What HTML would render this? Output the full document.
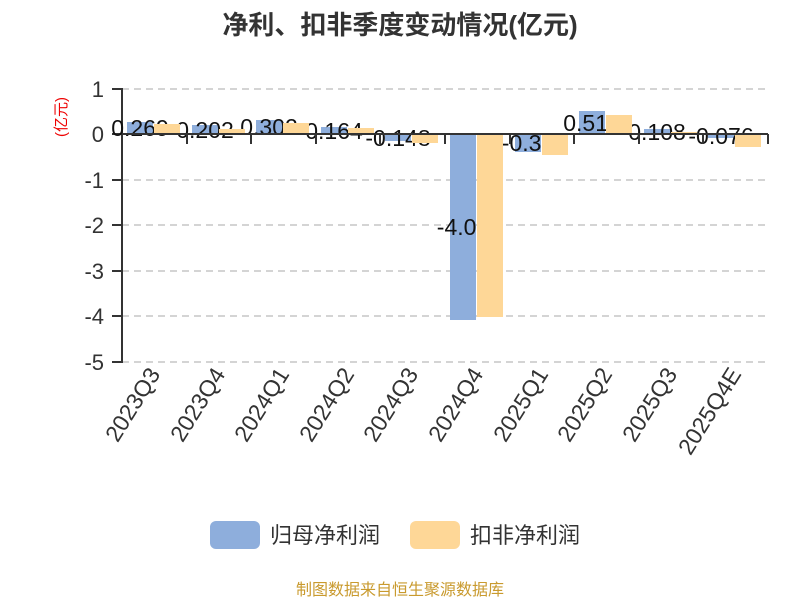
<!DOCTYPE html>
<html><head><meta charset="utf-8"><style>body{margin:0;background:#fff}</style></head><body>
<svg width="800" height="600" xmlns="http://www.w3.org/2000/svg" font-family="Liberation Sans, Noto Sans CJK SC, sans-serif">
<text x="400" y="34" text-anchor="middle" font-size="26" font-weight="bold" fill="#333">净利、扣非季度变动情况(亿元)</text>
<text transform="translate(66,117) rotate(-90)" text-anchor="middle" font-size="15" fill="#e00">(亿元)</text>
<g stroke="#bbb" stroke-dasharray="7,5" stroke-width="1.3">
<line x1="122" y1="89" x2="768" y2="89"/><line x1="122" y1="180" x2="768" y2="180"/><line x1="122" y1="225" x2="768" y2="225"/><line x1="122" y1="271" x2="768" y2="271"/><line x1="122" y1="316" x2="768" y2="316"/><line x1="122" y1="362" x2="768" y2="362"/>
</g>
<g font-size="22" fill="#333" text-anchor="end">
<text x="104" y="97">1</text><text x="104" y="142">0</text><text x="104" y="188">-1</text><text x="104" y="233">-2</text><text x="104" y="279">-3</text><text x="104" y="324">-4</text><text x="104" y="370">-5</text>
</g>
<g stroke="#333" stroke-width="2">
<line x1="122" y1="88" x2="122" y2="363"/>
<line x1="112" y1="89" x2="122" y2="89"/><line x1="112" y1="134" x2="122" y2="134"/><line x1="112" y1="180" x2="122" y2="180"/><line x1="112" y1="225" x2="122" y2="225"/><line x1="112" y1="271" x2="122" y2="271"/><line x1="112" y1="316" x2="122" y2="316"/><line x1="112" y1="362" x2="122" y2="362"/>
</g>
<g fill="#8eaedc">
<rect x="127" y="122" width="26" height="12"/>
<rect x="192" y="125" width="26" height="9"/>
<rect x="256" y="120" width="26" height="14"/>
<rect x="321" y="127" width="26" height="7"/>
<rect x="385" y="134" width="26" height="7"/>
<rect x="450" y="134" width="26" height="186"/>
<rect x="515" y="134" width="26" height="18"/>
<rect x="579" y="111" width="26" height="23"/>
<rect x="644" y="129" width="26" height="5"/>
<rect x="708" y="134" width="26" height="4"/>
</g>
<g font-size="23" fill="#111" text-anchor="middle">
<text x="140" y="136">0.269</text>
<text x="205" y="138">0.202</text>
<text x="269" y="135">0.302</text>
<text x="334" y="139">0.164</text>
<text x="398" y="146">-0.148</text>
<text x="463" y="235">-4.06</text>
<text x="528" y="151">-0.39</text>
<text x="592" y="131">0.514</text>
<text x="657" y="140">0.108</text>
<text x="721" y="144">-0.076</text>
</g>
<g fill="#fed797">
<rect x="154" y="124" width="26" height="10"/>
<rect x="219" y="129" width="26" height="5"/>
<rect x="283" y="123" width="26" height="11"/>
<rect x="348" y="128" width="26" height="6"/>
<rect x="412" y="134" width="26" height="9"/>
<rect x="477" y="134" width="26" height="183"/>
<rect x="542" y="134" width="26" height="21"/>
<rect x="606" y="115" width="26" height="19"/>
<rect x="671" y="132" width="26" height="2"/>
<rect x="735" y="134" width="26" height="13"/>
</g>
<g stroke="#333" stroke-width="2">
<line x1="122" y1="134" x2="768" y2="134"/>
<line x1="187" y1="134" x2="187" y2="144"/><line x1="251" y1="134" x2="251" y2="144"/><line x1="316" y1="134" x2="316" y2="144"/><line x1="380" y1="134" x2="380" y2="144"/><line x1="445" y1="134" x2="445" y2="144"/><line x1="510" y1="134" x2="510" y2="144"/><line x1="574" y1="134" x2="574" y2="144"/><line x1="639" y1="134" x2="639" y2="144"/><line x1="703" y1="134" x2="703" y2="144"/><line x1="768" y1="134" x2="768" y2="144"/>
</g>
<g font-size="23" fill="#333" text-anchor="end">
<text transform="translate(161,374) rotate(-58)">2023Q3</text>
<text transform="translate(226,374) rotate(-58)">2023Q4</text>
<text transform="translate(290,374) rotate(-58)">2024Q1</text>
<text transform="translate(355,374) rotate(-58)">2024Q2</text>
<text transform="translate(419,374) rotate(-58)">2024Q3</text>
<text transform="translate(484,374) rotate(-58)">2024Q4</text>
<text transform="translate(549,374) rotate(-58)">2025Q1</text>
<text transform="translate(613,374) rotate(-58)">2025Q2</text>
<text transform="translate(678,374) rotate(-58)">2025Q3</text>
<text transform="translate(742,374) rotate(-58)">2025Q4E</text>
</g>
<rect x="210" y="521" width="50" height="28" rx="6" fill="#8eaedc"/>
<text x="270" y="543" font-size="22" fill="#333">归母净利润</text>
<rect x="410" y="521" width="50" height="28" rx="6" fill="#fed797"/>
<text x="470" y="543" font-size="22" fill="#333">扣非净利润</text>
<text x="400" y="595" text-anchor="middle" font-size="16" fill="#c99a2e">制图数据来自恒生聚源数据库</text>
</svg>
</body></html>
